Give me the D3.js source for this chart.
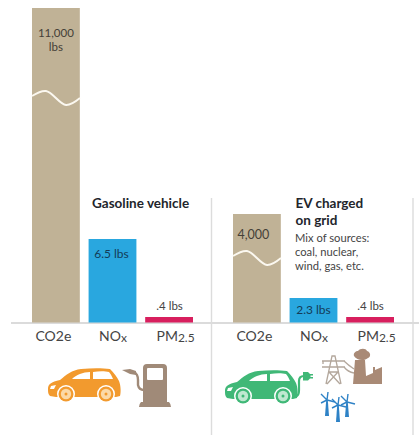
<!DOCTYPE html>
<html>
<head>
<meta charset="utf-8">
<script src="https://cdn.jsdelivr.net/npm/d3@7"></script>
<style>
html, body { margin: 0; padding: 0; background: #fff; }
svg { display: block; }
text { font-family: Lato, "Open Sans", sans-serif; }
</style>
</head>
<body>
<div id="chart"></div>
<script>
// Data
const vehicles = ["Gasoline vehicle", "EV charged on grid"];
const pollutants = ["CO2e", "NOx", "PM2.5"];
const co2Values = [11000, 4000];
const noxValues = [6.5, 2.3];
const pmValues = [0.4, 0.4];
const co2Labels = [["11,000", "lbs"], ["4,000"]];
const noxLabels = ["6.5 lbs", "2.3 lbs"];
const pmLabels = [".4 lbs", ".4 lbs"];
const sourcesNote = ["Mix of sources:", "coal, nuclear,", "wind, gas, etc."];

const width = 419, height = 438;
const baseline = 322.5;
const colors = { CO2e: "#c0b296", NOx: "#29a7df", "PM2.5": "#d81f5e" };

const svg = d3.select("#chart").append("svg")
    .attr("width", width)
    .attr("height", height);

// The bars use broken scales, so each unit gets its own piecewise scale
const yCo2 = d3.scaleLinear().domain([0, 4000, 11000]).range([baseline, 214, 8]);
const yLbs = d3.scaleLinear().domain([0, 0.4, 2.3, 6.5]).range([baseline, 317, 298, 239]);

const xPanel = d3.scaleBand().domain(vehicles).range([32, 434]).padding(0);
const xBar = d3.scaleBand().domain(pollutants).range([0, 161]).paddingInner(0.155).paddingOuter(0);

// Rules behind the bars
svg.append("line").attr("x1", 11).attr("x2", 419).attr("y1", baseline + 0.5).attr("y2", baseline + 0.5)
    .attr("stroke", "#cfcfcf").attr("stroke-width", 1.3);
[211.5, 413].forEach(function(x) {
    svg.append("line").attr("x1", x).attr("x2", x).attr("y1", 198).attr("y2", 435)
        .attr("stroke", "#dcdcdc").attr("stroke-width", 1.4);
});

const wave = d3.line().curve(d3.curveCatmullRom);
const catOffset = [-2.5, 0.5, 6.5];

vehicles.forEach(function(v, i) {
    const g = svg.append("g").attr("transform", `translate(${xPanel(v)},0)`);

    const rows = [
        { key: "CO2e", y: yCo2(co2Values[i]) },
        { key: "NOx", y: yLbs(noxValues[i]) },
        { key: "PM2.5", y: yLbs(pmValues[i]) }
    ];

    g.selectAll("rect")
        .data(rows)
        .join("rect")
        .attr("x", d => xBar(d.key))
        .attr("y", d => d.y)
        .attr("width", xBar.bandwidth())
        .attr("height", d => baseline - d.y)
        .attr("fill", d => colors[d.key]);

    // White break across the CO2e bar
    const wy = i ? 257 : 97;
    g.append("path")
        .attr("d", wave([[0, wy - 1], [14, wy - 6], [34, wy + 8], [48, wy + 1]]))
        .attr("fill", "none")
        .attr("stroke", "#fbf8f0")
        .attr("stroke-width", 2);

    // Value labels
    const mid = k => xBar(k) + xBar.bandwidth() / 2;
    co2Labels[i].forEach(function(t, j) {
        g.append("text").attr("x", mid("CO2e") + (i ? -3.5 : 0)).attr("y", (i ? 239 : 37) + j * 14)
            .attr("text-anchor", "middle").attr("font-size", i ? 12.5 : 11.5).attr("fill", "#443f37").text(t);
    });
    g.append("text").attr("x", mid("NOx") - (i ? 0 : 1)).attr("y", i ? 314 : 258)
        .attr("text-anchor", "middle").attr("font-size", 12).attr("fill", "#143c58").text(noxLabels[i]);
    g.append("text").attr("x", mid("PM2.5") + 0.5).attr("y", 309.5)
        .attr("text-anchor", "middle").attr("font-size", 11.5).attr("fill", "#444").text(pmLabels[i]);

    // Category labels with small subscript parts
    const cats = [["CO2e", ""], ["NO", "x"], ["PM", "2.5"]];
    cats.forEach(function(c, j) {
        const t = g.append("text").attr("x", mid(pollutants[j]) + catOffset[j]).attr("y", 340.5)
            .attr("text-anchor", "middle").attr("font-size", 14).attr("fill", "#444");
        t.append("tspan").text(c[0]);
        if (c[1]) t.append("tspan").attr("font-size", 12).attr("dy", 1).text(c[1]);
    });
});

// Panel titles
svg.append("text").attr("x", 92).attr("y", 207.5).attr("font-size", 13.5).attr("font-weight", 700)
    .attr("fill", "#22252b").text(vehicles[0]);
svg.append("text").attr("font-size", 13.5).attr("font-weight", 700).attr("fill", "#22252b")
    .selectAll("tspan").data(["EV charged", "on grid"]).join("tspan")
    .attr("x", 295.5).attr("y", (d, i) => 207.5 + i * 17).text(d => d);
svg.append("text").attr("font-size", 11.2).attr("fill", "#444")
    .selectAll("tspan").data(sourcesNote).join("tspan")
    .attr("x", 295).attr("y", (d, i) => 242 + i * 14).text(d => d);

// Icons
const soft = svg.append("defs").append("filter").attr("id", "soft");
soft.append("feGaussianBlur").attr("stdDeviation", 0.35);

function car(x, y, color, hub) {
    const c = svg.append("g").attr("transform", `translate(${x},${y})`).attr("filter", "url(#soft)");
    c.append("path").attr("fill", color)
        .attr("d", "M0,21 C0,16 3,14 12,12 C18,7 24,2 33,1 C44,0 54,0 62,1 C66,5 69,9 71,13 C73,18 73,25 72,28 L68,29 L48,29 L28,29 L8,29 L2,28 C0,26 0,24 0,21 Z");
    c.append("path").attr("fill", "#fff").attr("d", "M24,11 C28,7 35,4 42,4 L42,11 Z");
    c.append("path").attr("fill", "#fff").attr("d", "M45,4 C51,3 57,3 61,4 C63,6 64,9 65,11 L45,11 Z");
    c.append("path").attr("fill", "#fff").attr("d", "M3,18 L8,17 L6,21 L2,21 Z");
    [18, 58].forEach(function(wx) {
        c.append("circle").attr("cx", wx).attr("cy", 26).attr("r", 9).attr("fill", "#fff");
        c.append("circle").attr("cx", wx).attr("cy", 26).attr("r", 7.5).attr("fill", color);
        c.append("circle").attr("cx", wx).attr("cy", 26).attr("r", 5.2).attr("fill", hub);
        c.append("circle").attr("cx", wx).attr("cy", 26).attr("r", 1.5).attr("fill", color);
    });
}
car(48, 368, "#f29a2e", "#fbd9a8");
car(225, 370, "#3fb877", "#bfe8d0");

// Gas pump
const pumpColor = "#a08a78";
const pump = svg.append("g").attr("filter", "url(#soft)");
pump.append("path").attr("fill", pumpColor)
    .attr("d", "M143,368 Q143,364 147,364 L163,364 Q167,364 167,368 L167,402 L143,402 Z M141,402 L169,402 Q171,404 171,407 L139,407 Q139,404 141,402 Z");
pump.append("rect").attr("x", 147).attr("y", 368).attr("width", 16).attr("height", 12).attr("rx", 1).attr("fill", "#fff");
pump.append("path").attr("fill", pumpColor).attr("d", "M122,370 L130,369 L136,371 L136,375 L130,374 Z");
pump.append("path").attr("fill", "none").attr("stroke", pumpColor).attr("stroke-width", 2.4)
    .attr("d", "M134,372 Q138,374 138,380 L138,385 Q139,390 144,390");

// Plug on the EV
const plug = svg.append("g").attr("filter", "url(#soft)");
plug.append("path").attr("fill", "none").attr("stroke", "#3fb877").attr("stroke-width", 2.2)
    .attr("d", "M296,396 Q299,396 299,390 L299,381 Q299,376 304,376");
plug.append("path").attr("fill", "#3fb877").attr("d", "M303,372 L308,372 L310,374 L313,374 L313,375.5 L310.5,375.5 L310.5,377 L313,377 L313,378.5 L310,378.5 L308,380.5 L303,380.5 Z");

// Pylon and factory
const pylon = svg.append("g").attr("filter", "url(#soft)").attr("fill", "none").attr("stroke", "#b3a79c").attr("stroke-width", 1.3);
pylon.append("path").attr("d", "M326,384 L332,356 L335,356 L341,384 M329,372 L338,372 M329,372 L340,384 M338,372 L327,384 M322,361 L345,361 M322,367 L345,367 M323,361 L323,364 M344,361 Q348,365 354,369 M344,367 Q348,372 354,373");
const plant = svg.append("g").attr("filter", "url(#soft)").attr("fill", "#a98a76");
plant.append("path").attr("d", "M353,384 L355,360 L365,360 L366,376 L373,373 L373,367 L375,367 L375,370 L382,367 L382,384 Z");
plant.append("path").attr("d", "M354,356 C353,353 356,351 358,351 C360,348 366,348 367,351 C371,352 371,357 368,358 C365,361 357,361 354,356 Z");

// Wind turbines: x, tower base, hub height
const turbines = [[327, 416, 400], [338, 422, 405], [347, 417, 402]];
const blue = "#2f82c6";
const wind = svg.append("g").attr("filter", "url(#soft)");
turbines.forEach(function(t) {
    const hx = t[0], base = t[1], hub = t[2];
    wind.append("path").attr("fill", blue)
        .attr("d", `M${hx - 2},${base} L${hx - 0.8},${hub} L${hx + 0.8},${hub} L${hx + 2},${base} Z`);
    wind.append("path").attr("fill", "none").attr("stroke", blue).attr("stroke-width", 1.4)
        .attr("d", `M${hx},${hub} L${hx + 1},${hub - 8} M${hx},${hub} L${hx - 6},${hub - 6} M${hx},${hub} L${hx + 8},${hub + 2} M${hx},${hub} L${hx - 6},${hub + 3}`);
});
</script>
</body>
</html>
